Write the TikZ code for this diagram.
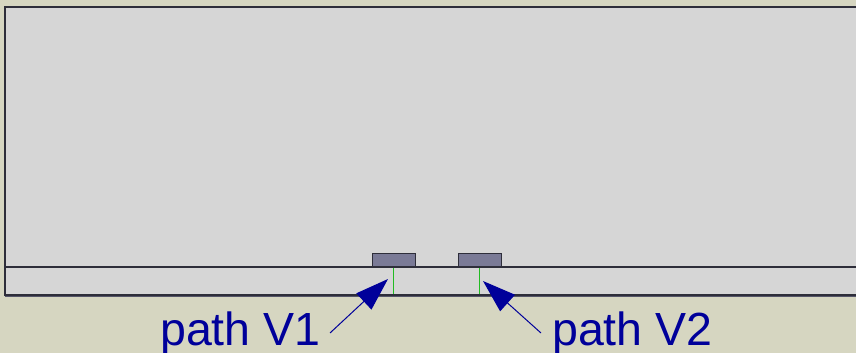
\documentclass[tikz,border=0pt]{standalone}
\usepackage{fontspec}
\setmainfont{Liberation Sans}
\usetikzlibrary{arrows.meta}
\definecolor{bgc}{HTML}{D6D6C1}
\definecolor{panel}{HTML}{D6D6D6}
\definecolor{padc}{HTML}{7A7A96}
\definecolor{navy}{HTML}{00009A}
\definecolor{edgec}{HTML}{2E2E3A}
\definecolor{viacol}{HTML}{22BB22}
\tikzset{
  pad/.style={draw=edgec, line width=1.3pt, fill=padc},
  plabel/.style={text=navy, font=\fontsize{46.5}{50}\selectfont, inner sep=0pt, anchor=base west},
  ptr/.style={draw=navy, line width=1pt, -{Triangle[length=33pt,width=22pt]}},
  viabar/.style={fill=viacol, draw=none, minimum width=1.6pt, minimum height=26pt, inner sep=0pt, anchor=north}
}
\begin{document}
\begin{tikzpicture}[x=1pt,y=-1pt]
\useasboundingbox (0,0) rectangle (856,353);
\fill[bgc] (0,0) rectangle (856,353);
% panel
\fill[panel] (5,7) rectangle (860,295);
\draw[color=padc!70!black, line width=1pt] (5,296) -- (860,296);
\draw[edgec, line width=2pt] (860,7) -- (5,7) -- (5,295) -- (860,295);
\draw[edgec, line width=1.5pt] (5,267) -- (860,267);
% pads
\node[pad, minimum width=43pt, minimum height=13pt, inner sep=0pt, anchor=south west] (p1) at (372,267) {};
\node[pad, minimum width=43pt, minimum height=13pt, inner sep=0pt, anchor=south west] (p2) at (458,267) {};
% vias
\node[viabar] (v1) at (393.5,268) {};
\node[viabar] (v2) at (479.5,268) {};
% labels
\node[plabel] (l1) at (160,345) {path V1};
\node[plabel] (l2) at (552,345) {path V2};
\coordinate (a1s) at (330,333);
\coordinate (a1e) at (388,279);
\coordinate (a2s) at (541,333);
\coordinate (a2e) at (483,281);
\draw[ptr] (a1s) -- (a1e);
\draw[ptr] (a2s) -- (a2e);
\end{tikzpicture}
\end{document}
